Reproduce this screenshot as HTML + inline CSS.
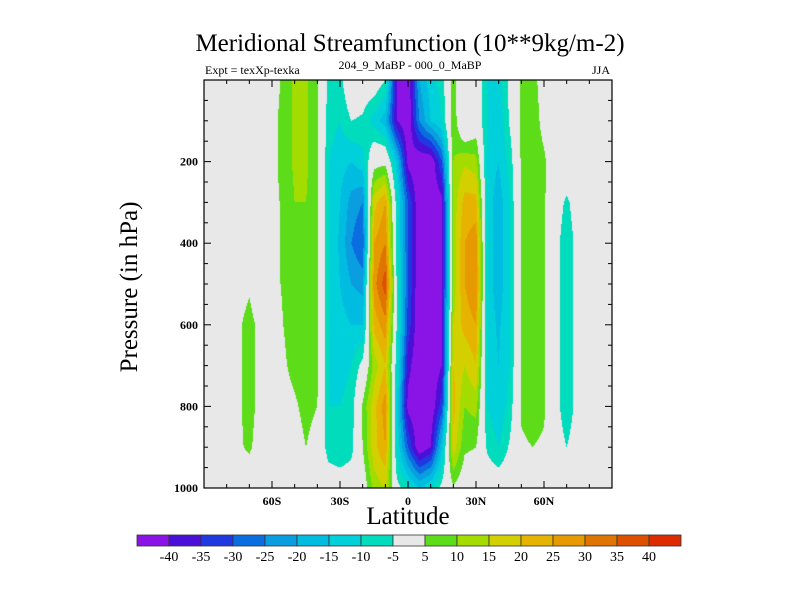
<!DOCTYPE html>
<html><head><meta charset="utf-8"><style>
html,body{margin:0;padding:0;background:#fff;}
#wrap{position:relative;width:800px;height:600px;font-family:"Liberation Serif",serif;}
.t{position:absolute;white-space:nowrap;color:#000;}
canvas{position:absolute;left:204px;top:80px;}
svg{position:absolute;left:0;top:0;}
</style></head><body>
<div id="wrap">
<div class="t" style="left:0;width:820px;text-align:center;top:30px;font-size:25px;">Meridional Streamfunction (10**9kg/m-2)</div>
<div class="t" style="left:205px;top:63px;font-size:12px;">Expt = texXp-texka</div>
<div class="t" style="left:0;width:820px;text-align:center;top:58px;font-size:12px;">204_9_MaBP - 000_0_MaBP</div>
<div class="t" style="left:592px;top:63px;font-size:12px;">JJA</div>
<div class="t" style="left:130px;top:287px;font-size:25px;transform:translate(-50%,-50%) rotate(-90deg);">Pressure (in hPa)</div>
<div class="t" style="left:0;width:816px;text-align:center;top:503px;font-size:25px;">Latitude</div>
<canvas id="cv" width="408" height="408"></canvas>
<svg id="sv" width="800" height="600"></svg>
</div>
<script>
const lats=[-90,-85,-80,-75,-70,-65,-60,-55,-50,-45,-40,-35,-30,-25,-20,-15,-10,-5,0,5,10,15,20,25,30,35,40,45,50,55,60,65,70,75,80,85,90];
const levels=[0,100,200,300,400,500,600,700,800,900,1000];
const r0  =[0,0,0,0,0,0,2,6,11,11,6,-7,-7,2,0,0,-5,-40,-45,-20,-12,-8,8,-5,0,-10,-12,-3,6,7,2,0,0,0,0,0,0];
const r100=[0,0,0,0,0,0,3,7,11,11,6,-8,-10,-5,-6,-12,-18,-40,-45,-25,-15,-10,9,-5,0,-10,-14,-4,6,8,3,0,0,0,0,0,0];
const r200=[0,0,0,0,0,0,3,7,11,11,6,-10,-13,-15,-12,2,3,-15,-42,-45,-45,-30,10,14,12,-12,-15,-8,6,8,6,0,0,0,0,0,0];
const r300=[0,0,0,0,0,0,3,6,10,10,6,-10,-15,-22,-25,18,25,-8,-30,-45,-45,-42,12,22,22,-12,-18,-10,6,8,6,-2,-6,-2,0,0,0];
const r400=[0,0,0,0,0,0,2,6,8,8,6,-10,-16,-25,-30,25,30,-8,-30,-45,-45,-42,12,25,28,-12,-18,-10,6,8,6,-3,-8,-3,0,0,0];
const r500=[0,0,0,2,4,0,2,6,8,8,6,-10,-15,-20,-22,28,38,-5,-30,-45,-45,-42,12,25,30,-12,-18,-10,6,8,6,-3,-8,-3,0,0,0];
const r600=[0,0,0,4,7,3,0,5,8,8,6,-10,-13,-15,-15,22,28,-5,-32,-45,-45,-42,15,22,25,-12,-16,-10,6,8,6,-3,-8,-3,0,0,0];
const r700=[0,0,0,4,7,3,0,4,7,8,6,-10,-12,-10,-3,12,20,-8,-38,-45,-45,-40,20,15,20,-12,-15,-10,6,8,6,-3,-8,-3,0,0,0];
const r800=[0,0,0,4,7,3,0,2,4,7,5,-10,-10,-8,6,18,28,-12,-42,-45,-45,-32,22,10,12,-10,-14,-8,6,8,6,-3,-8,-3,0,0,0];
const r900=[0,0,0,4,6,2,0,0,2,5,2,-8,-10,-7,5,18,25,-10,-30,-45,-40,-15,18,6,5,-6,-10,-4,4,5,4,-2,-5,-2,0,0,0];
const r1000=[0,0,0,0,0,0,0,0,0,0,0,0,0,0,0,12,15,-3,-8,-15,-10,-3,4,0,0,0,0,0,0,0,0,0,0,0,0,0,0];
const grid=[r0,r100,r200,r300,r400,r500,r600,r700,r800,r900,r1000];
const cbLabels=[-40,-35,-30,-25,-20,-15,-10,-5,5,10,15,20,25,30,35,40];
const colors=["#8a14e6","#4a10d8","#1f38e0","#0a6ee0","#0a9ee0","#00bce0","#00d0da","#00dcbc","#e8e8e8","#5ddc1a","#a4dc00","#d4d000","#e6b400","#e69a00","#e07400","#dc5000","#dc2c00"];

const PL=204,PT=80,PW=408,PH=408;
const xS=lat=>PL+(lat+90)/180*PW;
const yS=p=>PT+p/1000*PH;
function binOf(v){let i=0;while(i<cbLabels.length&&v>=cbLabels[i])i++;return i;}
function hex(c){return [parseInt(c.substr(1,2),16),parseInt(c.substr(3,2),16),parseInt(c.substr(5,2),16)];}
const rgb=colors.map(hex);
const cv=document.getElementById('cv');const ctx=cv.getContext('2d');
const img=ctx.createImageData(PW,PH);
const dl=lats[1]-lats[0],dp=levels[1]-levels[0];
for(let py=0;py<PH;py++){
 const p=(py+0.5)/PH*1000;let j=Math.min(Math.floor((p-levels[0])/dp),levels.length-2);const fy=(p-levels[j])/dp;
 for(let px=0;px<PW;px++){
  const lat=(px+0.5)/PW*180-90;let i=Math.min(Math.floor((lat-lats[0])/dl),lats.length-2);const fx=(lat-lats[i])/dl;
  const v=(grid[j][i]*(1-fx)+grid[j][i+1]*fx)*(1-fy)+(grid[j+1][i]*(1-fx)+grid[j+1][i+1]*fx)*fy;
  const c=rgb[binOf(v)];const k=(py*PW+px)*4;img.data[k]=c[0];img.data[k+1]=c[1];img.data[k+2]=c[2];img.data[k+3]=255;
 }
}
ctx.putImageData(img,0,0);
const NS='http://www.w3.org/2000/svg';const sv=document.getElementById('sv');
function mk(tag,at){const e=document.createElementNS(NS,tag);for(const k in at)e.setAttribute(k,at[k]);sv.appendChild(e);return e;}
const frame=mk('rect',{x:PL,y:PT,width:PW,height:PH,fill:'none',stroke:'#000','stroke-width':1.2});


for(let lat=-80;lat<=80;lat+=10){
 const x=xS(lat),len=lat%30===0?7:4;
 const t1=mk('line',{x1:x,y1:PT+PH,x2:x,y2:PT+PH-len,stroke:'#000'});
 
 
 const t2=mk('line',{x1:x,y1:PT,x2:x,y2:PT+len,stroke:'#000'});
 
 
 if(lat%30===0){
  const tx=mk('text',{x:x,y:PT+PH+17,'text-anchor':'middle','font-size':12,'font-family':'Liberation Serif, serif','font-weight':'bold'});
  tx.textContent=lat===0?'0':(Math.abs(lat)+(lat<0?'S':'N'));
  
  
 }
}
for(let p=50;p<1000;p+=50){
 const y=yS(p),len=p%200===0?7:4;
 const t1=mk('line',{x1:PL,y1:y,x2:PL+len,y2:y,stroke:'#000'});
 
 
 const t2=mk('line',{x1:PL+PW,y1:y,x2:PL+PW-len,y2:y,stroke:'#000'});
 
 
}
for(let p=200;p<=1000;p+=200){
 const tx=mk('text',{x:PL-6,y:yS(p)+4,'text-anchor':'end','font-size':12,'font-family':'Liberation Serif, serif','font-weight':'bold'});
 tx.textContent=String(p);
 
 
}
const CX=137,CW=544,CY=535,CH=11,bw=CW/colors.length;
colors.forEach((c,i)=>{
 const r=mk('rect',{x:CX+i*bw,y:CY,width:bw,height:CH,fill:c,stroke:'#333','stroke-width':0.8});
 
 
});
cbLabels.forEach((l,i)=>{
 const tx=mk('text',{x:CX+(i+1)*bw,y:CY+CH+15,'text-anchor':'middle','font-size':14,'font-family':'Liberation Serif, serif'});
 tx.textContent=String(l);
 
 
});
</script>
</body></html>
